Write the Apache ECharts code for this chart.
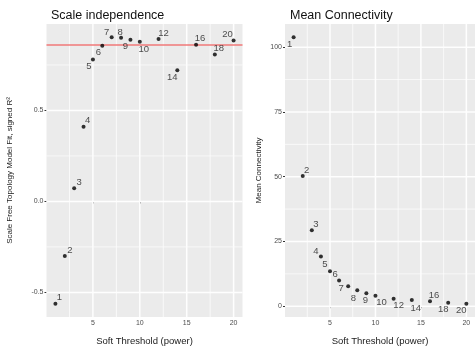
<!DOCTYPE html>
<html><head><meta charset="utf-8">
<script src="https://cdn.jsdelivr.net/npm/echarts@6/dist/echarts.min.js"></script>
<style>html,body{margin:0;padding:0;background:#fff}#c{width:475px;height:351px}</style>
</head><body><div id="c"></div>
<script>
// ---- data ----
const powers = [1,2,3,4,5,6,7,8,9,10,12,14,16,18,20];
const scaleFitR2 = [-0.562,-0.300,0.072,0.411,0.780,0.855,0.902,0.900,0.888,0.878,0.893,0.721,0.861,0.807,0.884];
const meanConnectivity = [103.8,50.3,29.3,19.2,13.5,9.9,7.7,6.2,5.0,4.1,2.9,2.4,1.9,1.4,1.0];
const r2Cutoff = 0.86;
const xTicks = [5,10,15,20];
const yTicksFit = [-0.5,0,0.5];
const yTicksK = [0,25,50,75,100];

// ---- label placement (style, not data) ----
const fitLabelOffsets = [[4,-6],[5,-6],[5,-6],[4,-6],[-4,7],[-4,7],[-5,-5],[-1,-5],[-5,7],[4,8],[5,-6],[-5,7],[4,-6],[4,-6],[-6,-6]];
const kLabelOffsets = [[-4,7],[4,-6],[4,-6],[-5,-5],[-5,-7],[-4,-6],[-7,2],[-4,8],[-1,7],[6,7],[5,7],[4,8],[4,-6],[-5,7],[-5,7]];

function expand(vals){const lo=Math.min(...vals),hi=Math.max(...vals),r=hi-lo;return [lo-0.05*r,hi+0.05*r];}
function minors(t){const s=t[1]-t[0];const out=[t[0]-s/2];t.forEach(v=>out.push(v+s/2));return out;}
const xr = expand(powers), yf = expand(scaleFitR2), yk = expand(meanConnectivity);

const FONT = 'Liberation Sans, Arial, sans-serif';
const tickColor = '#4D4D4D';
const GRIDCOL = '#FEFEFE';

function xAxisDef(gi){
  return {type:'value', gridIndex:gi, min:xr[0], max:xr[1],
    name:'Soft Threshold (power)', nameLocation:'middle', nameGap:19,
    nameTextStyle:{fontFamily:FONT,fontSize:9.5,color:'#1a1a1a'},
    axisLine:{show:false}, splitLine:{show:false},
    axisTick:{show:true,length:2,lineStyle:{color:'#333'},customValues:xTicks},
    axisLabel:{fontFamily:FONT,fontSize:7,color:tickColor,margin:3,customValues:xTicks}};
}
function yAxisDef(gi,rng,ticks,name,gap,fmt){
  return {type:'value', gridIndex:gi, min:rng[0], max:rng[1],
    name:name, nameLocation:'middle', nameGap:gap,
    nameTextStyle:{fontFamily:FONT,fontSize:8,color:'#1a1a1a'},
    axisLine:{show:false}, splitLine:{show:false},
    axisTick:{show:true,length:2,lineStyle:{color:'#333'},customValues:ticks},
    axisLabel:{fontFamily:FONT,fontSize:7,color:tickColor,margin:3,customValues:ticks,formatter:fmt}};
}
// panel gridlines (ggplot style), positioned through the axes' scales
function gridLineSeries(gi,yticks){
  const rng = gi===0?yf:yk;
  const out=[];
  const mk=(data,w)=>({type:'line',xAxisIndex:gi,yAxisIndex:gi,z:2,silent:true,symbol:'none',
    animation:false,data:data,lineStyle:{color:GRIDCOL,width:w,type:'solid',opacity:1},tooltip:{show:false}});
  xTicks.forEach(v=>out.push(mk([[v,rng[0]],[v,rng[1]]],1.5)));
  minors(xTicks).filter(v=>v>xr[0]&&v<xr[1]).forEach(v=>out.push(mk([[v,rng[0]],[v,rng[1]]],0.75)));
  yticks.forEach(v=>out.push(mk([[xr[0],v],[xr[1],v]],1.5)));
  minors(yticks).filter(v=>v>rng[0]&&v<rng[1]).forEach(v=>out.push(mk([[xr[0],v],[xr[1],v]],0.75)));
  return out;
}
function pointSeries(gi,ys,offs){
  return {type:'scatter',xAxisIndex:gi,yAxisIndex:gi,z:5,symbol:'circle',symbolSize:4,
    itemStyle:{color:'#000'},animation:false,
    data:powers.map((p,i)=>({value:[p,ys[i]],label:{offset:offs[i]}})),
    label:{show:true,position:'inside',formatter:p=>String(p.value[0]),
      fontFamily:FONT,fontSize:9.5,color:'#222'}};
}

const chart = echarts.init(document.getElementById('c'),null,{renderer:'canvas'});
chart.setOption({
  backgroundColor:'#fff', animation:false,
  title:[
    {text:'Scale independence',left:46,top:4,textStyle:{fontFamily:FONT,fontSize:12.5,fontWeight:'normal',color:'#111'}},
    {text:'Mean Connectivity',left:285,top:4,textStyle:{fontFamily:FONT,fontSize:12.5,fontWeight:'normal',color:'#111'}}
  ],
  grid:[
    {left:46.5,top:24,width:196,height:300,show:true,backgroundColor:'#EBEBEB',borderWidth:0},
    {left:285,top:24,width:196,height:300,show:true,backgroundColor:'#EBEBEB',borderWidth:0}
  ],
  xAxis:[xAxisDef(0),xAxisDef(1)],
  yAxis:[
    yAxisDef(0,yf,yTicksFit,'Scale Free Topology Model Fit, signed R\u00B2',33,v=>v.toFixed(1)),
    yAxisDef(1,yk,yTicksK,'Mean Connectivity',22,v=>String(Math.round(v)))
  ],
  series:[
    ...gridLineSeries(0,yTicksFit),
    ...gridLineSeries(1,yTicksK),
    {type:'scatter',xAxisIndex:0,yAxisIndex:0,data:[],z:4,silent:true,
      markLine:{silent:true,symbol:'none',animation:false,label:{show:false},
        data:[{yAxis:r2Cutoff,lineStyle:{color:'#F07878',width:1.6,type:'solid'}}]}},
    pointSeries(0,scaleFitR2,fitLabelOffsets),
    pointSeries(1,meanConnectivity,kLabelOffsets)
  ]
});
</script></body></html>
